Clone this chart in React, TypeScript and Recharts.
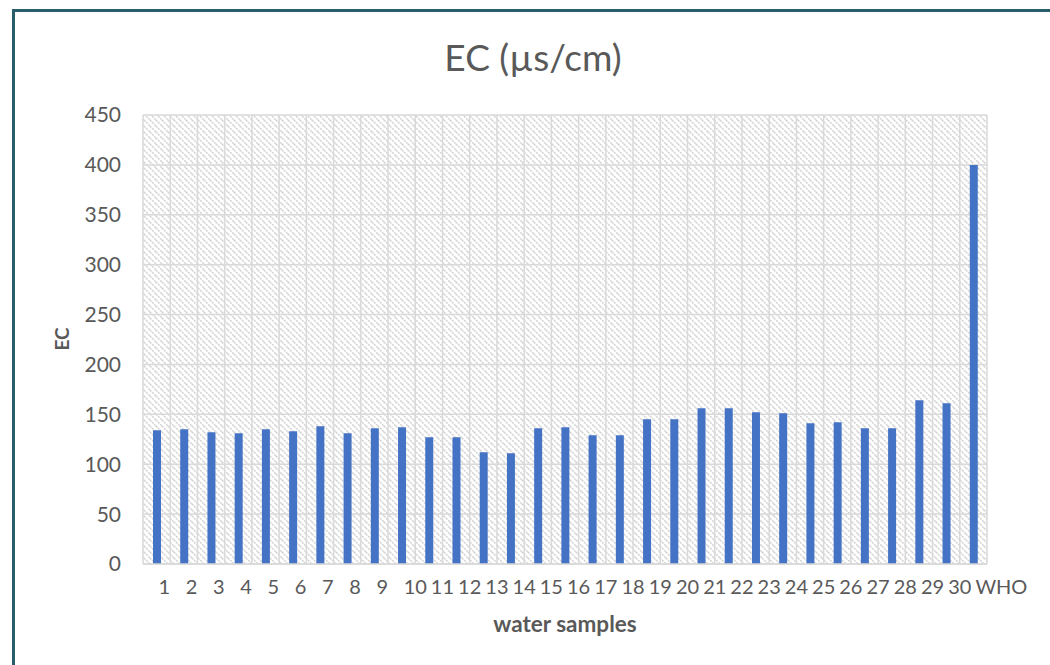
import { BarChart, Bar, XAxis, YAxis, CartesianGrid } from 'recharts'

// EC readings per water sample, last column is the WHO guideline
const samples = [
  '1', '2', '3', '4', '5', '6', '7', '8', '9', '10',
  '11', '12', '13', '14', '15', '16', '17', '18', '19', '20',
  '21', '22', '23', '24', '25', '26', '27', '28', '29', '30', 'WHO',
]
const ecValues = [
  134, 135, 132, 131, 135, 133, 138, 131, 136, 137,
  127, 127, 112, 111, 136, 137, 129, 129, 145, 145,
  156, 156, 152, 151, 141, 142, 136, 136, 164, 161, 400,
]
const yTicks = [0, 50, 100, 150, 200, 250, 300, 350, 400, 450]

const data = samples.map((name, i) => ({ name, ec: ecValues[i] }))

const FONT = 'Lato, "Open Sans", sans-serif'
const TEXT = '#595959'
const GRID = '#d9d9d9'

// vertical grid lines sit on the edges between category bands, not the centres
function bandEdges({ xAxis, offset }: any): number[] {
  const scale = xAxis?.scale
  if (typeof scale === 'function' && typeof scale.bandwidth === 'function') {
    const bw = scale.bandwidth()
    const starts = samples.map((c) => scale(c) as number)
    return [...starts, starts[starts.length - 1] + bw]
  }
  const step = offset.width / samples.length
  return Array.from({ length: samples.length + 1 }, (_, i) => offset.left + i * step)
}

export default function App() {
  return (
    <div
      style={{
        position: 'absolute',
        left: 0,
        top: 0,
        width: 1050,
        height: 665,
        background: '#fff',
        fontFamily: FONT,
        overflow: 'hidden',
      }}
    >
      {/* chart frame */}
      <div
        style={{
          position: 'absolute',
          left: 12,
          top: 9,
          width: 1100,
          height: 700,
          borderLeft: '3px solid #2a5d6c',
          borderTop: '3px solid #2a5d6c',
        }}
      />
      <div style={{ position: 'absolute', left: 0, top: 0 }}>
        <BarChart
          width={1050}
          height={665}
          data={data}
          margin={{ top: 115, right: 63, bottom: 71, left: 0 }}
        >
          <defs>
            <pattern id="hatch" patternUnits="userSpaceOnUse" width="6" height="6">
              <rect width="6" height="6" fill="#fff" />
              <path
                d="M0,0 L6,6 M-1,5 L1,7 M5,-1 L7,1"
                stroke="#d3d3d3"
                strokeWidth={1.5}
                strokeDasharray="2 1"
              />
            </pattern>
          </defs>
          <CartesianGrid
            stroke={GRID}
            strokeWidth={1.5}
            fill="url(#hatch)"
            verticalCoordinatesGenerator={bandEdges}
          />
          <XAxis
            dataKey="name"
            height={30}
            interval={0}
            tickLine={false}
            axisLine={{ stroke: GRID, strokeWidth: 1.5 }}
            tickSize={0}
            tickMargin={16}
            tick={{ fill: TEXT, fontSize: 20, fontFamily: FONT, textAnchor: 'start', dx: 2 }}
          />
          <YAxis
            width={143}
            domain={[0, 450]}
            ticks={yTicks}
            tickLine={false}
            axisLine={false}
            tickSize={0}
            tickMargin={22}
            tick={{ fill: TEXT, fontSize: 21, fontFamily: FONT }}
          />
          <Bar dataKey="ec" fill="#4472c4" barSize={8} isAnimationActive={false} />
        </BarChart>
      </div>
      <svg
        width={1050}
        height={665}
        style={{ position: 'absolute', left: 0, top: 0, pointerEvents: 'none' }}
      >
        <text x={533} y={71} textAnchor="middle" fill={TEXT} fontSize={37} fontFamily={FONT}>
          EC (µs/cm)
        </text>
        <text
          x={69}
          y={339}
          transform="rotate(-90 69 339)"
          textAnchor="middle"
          fill={TEXT}
          fontSize={19}
          fontWeight="bold"
          fontFamily={FONT}
        >
          EC
        </text>
        <text
          x={565}
          y={632}
          textAnchor="middle"
          fill={TEXT}
          fontSize={22.5}
          fontWeight="bold"
          fontFamily={FONT}
        >
          water samples
        </text>
      </svg>
    </div>
  )
}
